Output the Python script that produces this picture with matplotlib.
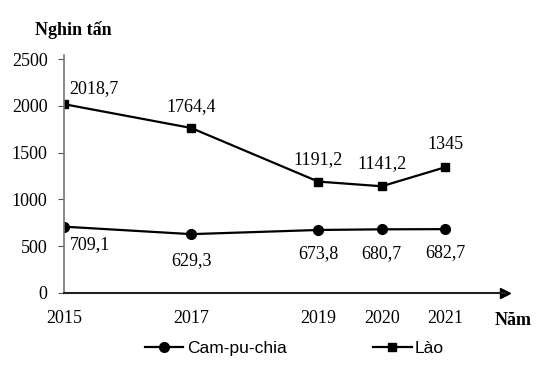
import matplotlib.pyplot as plt
from matplotlib.lines import Line2D

nam = [2015, 2017, 2019, 2020, 2021]
cam_pu_chia = [709.1, 629.3, 673.8, 680.7, 682.7]
lao = [2018.7, 1764.4, 1191.2, 1141.2, 1345]
nhan_cpc = ['709,1', '629,3', '673,8', '680,7', '682,7']
nhan_lao = ['2018,7', '1764,4', '1191,2', '1141,2', '1345']

serif = 'Liberation Serif'
sans = 'Liberation Sans'

fig = plt.figure(figsize=(5.58, 3.69), dpi=100)
ax = fig.add_axes([0.115, 0.206, 0.79, 0.645])

ax.plot(nam, cam_pu_chia, color='black', lw=1.6, marker='o', ms=7)
ax.plot(nam, lao, color='black', lw=1.6, marker='s', ms=6)

ax.set_xlim(2015, 2021.94)
ax.set_ylim(0, 2545)

for s in ['top', 'right']:
    ax.spines[s].set_visible(False)
ax.spines['left'].set_color('#777777')
ax.spines['bottom'].set_color('#222222')
ax.spines['left'].set_linewidth(1.2)
ax.spines['bottom'].set_linewidth(1.5)

# mui ten cuoi truc
ax.plot(1, 0, '>', color='black', ms=7, transform=ax.get_yaxis_transform(), clip_on=False)
ax.plot(0, 1, '^', color='black', ms=7, transform=ax.get_xaxis_transform(), clip_on=False)

ax.set_xticks(nam)
ax.set_xticklabels([str(n) for n in nam], fontfamily=serif, fontsize=13)
ax.set_yticks([0, 500, 1000, 1500, 2000, 2500])
ax.set_yticklabels(['0', '500', '1000', '1500', '2000', '2500'], fontfamily=serif, fontsize=13)
ax.tick_params(axis='x', length=0, pad=12)
ax.tick_params(axis='y', length=4, pad=8, color='#555555')

# nhan so lieu
lech_lao = [(4, 5), (0, 9), (0, 10), (0, 10), (0, 10)]
ha_lao = ['left', 'center', 'center', 'center', 'center']
for x, y, t, d, h in zip(nam, lao, nhan_lao, lech_lao, ha_lao):
    ax.annotate(t, (x, y), xytext=d, textcoords='offset points', ha=h, va='bottom',
                fontfamily=serif, fontsize=13)
lech_cpc = [(4, -7), (0, -13), (0, -11), (0, -11), (0, -11)]
ha_cpc = ['left', 'center', 'center', 'center', 'center']
for x, y, t, d, h in zip(nam, cam_pu_chia, nhan_cpc, lech_cpc, ha_cpc):
    ax.annotate(t, (x, y), xytext=d, textcoords='offset points', ha=h, va='top',
                fontfamily=serif, fontsize=13)

fig.text(0.063, 0.905, 'Nghin tấn', fontfamily=serif, fontsize=13, fontweight='bold')
fig.text(0.887, 0.118, 'Năm', fontfamily=serif, fontsize=13, fontweight='bold')

h1 = Line2D([], [], color='black', lw=1.6, marker='o', ms=7)
h2 = Line2D([], [], color='black', lw=1.6, marker='s', ms=6)
fig.legend([h1, h2], ['Cam-pu-chia', 'Lào'], loc='center', bbox_to_anchor=(0.528, 0.055),
           ncol=2, frameon=False, prop={'family': sans, 'size': 12.5},
           handlelength=2.2, handletextpad=0.2, columnspacing=5.0)

plt.savefig('out.png', dpi=100)
